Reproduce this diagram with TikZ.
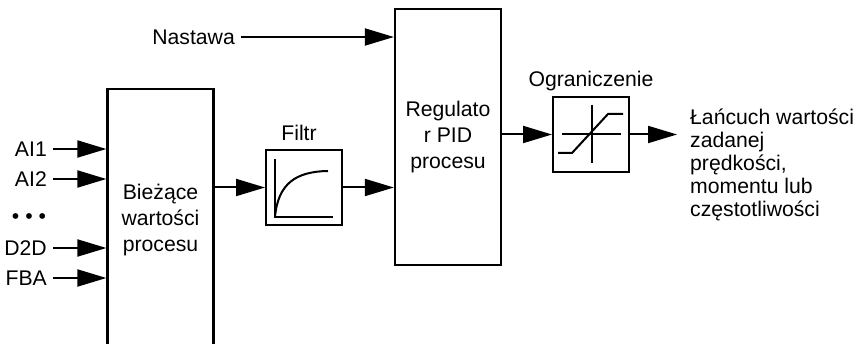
\documentclass[tikz,border=0pt]{standalone}
\usepackage{fontspec}
\setmainfont{Liberation Sans}
\usetikzlibrary{arrows.meta,positioning}

\begin{document}
\begin{tikzpicture}[x=1pt,y=-1pt,
  font=\fontsize{21.2}{26}\selectfont,
  blk/.style={draw,line width=2.3pt,align=center,minimum width=106pt,inner sep=0pt},
  sym/.style={draw,line width=2pt,minimum width=76pt,minimum height=75pt,inner sep=0pt},
  lbl/.style={inner xsep=6pt,inner ysep=2pt},
  arrow/.style={-{Triangle[length=29pt,width=17pt]},line width=2pt},
  curve/.style={line width=2pt}]
\useasboundingbox (0,0) rectangle (861,344);
\node[blk,minimum height=262pt] (biez) at (160.5,220) {Bieżące\\wartości\\procesu};
\node[blk,minimum height=256pt] (reg) at (448,137) {Regulato\\r PID\\procesu};
\node[sym] (filtr) at (304,187.5) {};
\node[sym] (ogr) at (591,134.5) {};
\node[lbl,above=6pt of filtr,xshift=-5pt] (filtrtxt) {Filtr};
\node[lbl,above=3pt of ogr] (ogrtxt) {Ograniczenie};
\node[lbl,anchor=west,align=left,inner xsep=0pt,font=\fontsize{21.2}{23.2}\selectfont] (out) at (690,165)
  {Łańcuch wartości\\zadanej\\prędkości,\\momentu lub\\częstotliwości};
\node[lbl,anchor=east] (nast) at (241,37) {Nastawa};
\node[lbl,anchor=east] (ai1) at (53,149) {AI1};
\node[lbl,anchor=east] (ai2) at (53,179) {AI2};
\node[lbl] (dots) at (29,219) {\textbullet\ \textbullet\ \textbullet};
\node[lbl,anchor=east] (d2d) at (53,248) {D2D};
\node[lbl,anchor=east] (fba) at (53,278) {FBA};
\draw[arrow] (ai1.east) -- (ai1.east -| biez.west);
\draw[arrow] (ai2.east) -- (ai2.east -| biez.west);
\draw[arrow] (d2d.east) -- (d2d.east -| biez.west);
\draw[arrow] (fba.east) -- (fba.east -| biez.west);
\draw[arrow] (nast.east) -- (nast.east -| reg.west);
\draw[arrow] (biez.east |- filtr) -- (filtr.west);
\draw[arrow] (filtr.east) -- (filtr.east -| reg.west);
\draw[arrow] (reg.east |- ogr) -- (ogr.west);
\draw[arrow] (ogr.east) -- ([xshift=-13pt]out.west |- ogr.east);
\begin{scope}[shift={(filtr.center)}]
  \draw[curve] (-29,-28.5) -- (-29,29.5) -- (29,29.5);
  \draw[curve] (-29,29.5) .. controls (-26,-4) and (-8,-16) .. (24,-16.5);
\end{scope}
\begin{scope}[shift={(ogr.center)}]
  \draw[curve] (-29,0) -- (30,0);
  \draw[curve] (1,-29.5) -- (1,28.5);
  \draw[curve] (-33,18.5) -- (-19,18.5) -- (17,-20.5) -- (32,-20.5);
\end{scope}
\end{tikzpicture}
\end{document}
